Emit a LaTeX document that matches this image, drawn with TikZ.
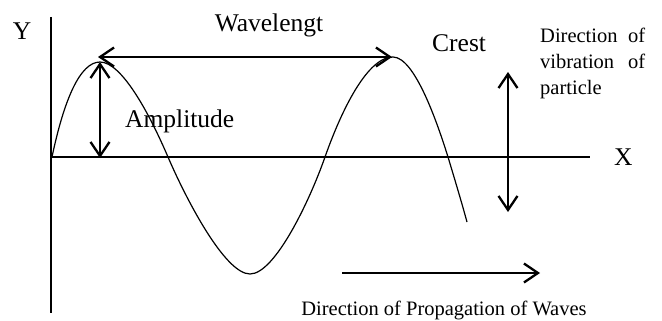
\documentclass[tikz,border=0pt]{standalone}
\usepackage{fontspec}
\setmainfont{Liberation Serif}
\usetikzlibrary{arrows.meta,positioning}

\begin{document}
\begin{tikzpicture}[x=1pt,y=-1pt,
  axisline/.style={line width=1.2pt},
  barb/.style={line width=2.3pt},
  twoway/.style={barb,{Straight Barb[length=14pt,width=19pt]}-{Straight Barb[length=14pt,width=19pt]}},
  oneway/.style={barb,-{Straight Barb[length=14pt,width=19pt]}},
  bigtxt/.style={font=\fontsize{25.5}{30}\selectfont,inner sep=0pt},
  smalltxt/.style={font=\fontsize{20.5}{26}\selectfont,inner sep=0pt}]
\useasboundingbox (0,0) rectangle (662,321);
% axes
\coordinate (o) at (51,157);
\coordinate (ytop) at (51,17);
\coordinate (ybot) at (51,313);
\coordinate (xend) at (590,157);
\draw[axisline] (ytop) -- (ybot);
\draw[axisline] (o) -- (xend);
\node[bigtxt] (ylab) at (22,31) {Y};
\node[bigtxt,right=24pt of xend] (xlab) {X};
% the wave
\draw[line width=1.2pt] (52,157) .. controls (64,100) and (80,62) .. (100,62)
  .. controls (122,62) and (150,115) .. (168,157)
  .. controls (186,199) and (225,274) .. (250,274)
  .. controls (275,274) and (310,200) .. (325,157)
  .. controls (338,120) and (365,57) .. (393,57)
  .. controls (415,57) and (438,125) .. (448,157)
  .. controls (454,177) and (461,200) .. (467,222);
% wavelength and amplitude
\coordinate (wl) at (98,57);
\coordinate (wr) at (392,57);
\draw[twoway] (wl) -- (wr);
\node[bigtxt,anchor=base] (wave) at (269,32) {Wavelengt};
\coordinate (at) at (100,62);
\coordinate (ab) at (100,158);
\draw[twoway] (at) -- (ab);
\node[bigtxt,anchor=base west] (amp) at (125,128) {Amplitude};
\node[bigtxt,anchor=base west] (crest) at (432,52) {Crest};
% vibration of particle
\coordinate (vt) at (508,72);
\coordinate (vb) at (508,212);
\draw[twoway] (vt) -- (vb);
\node[smalltxt,anchor=north west,text width=105pt,align=justify] (vib) at (540,28) {Direction of vibration of particle};
% propagation
\coordinate (pl) at (342,273);
\coordinate (pr) at (540,273);
\draw[oneway] (pl) -- (pr);
\node[smalltxt,anchor=base] (prop) at (444,315) {Direction of Propagation of Waves};
\end{tikzpicture}
\end{document}
